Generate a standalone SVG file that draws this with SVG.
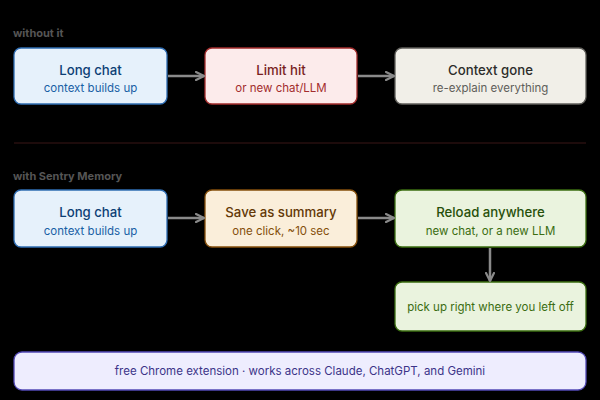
<svg xmlns="http://www.w3.org/2000/svg" width="600" height="400" viewBox="0 0 600 400">
<style>
text{font-family:"Inter","Liberation Sans",sans-serif;text-anchor:middle}
.sec{font-size:11px;font-weight:700;fill:#555;text-anchor:start}
.t{font-size:13.2px;font-weight:500}
.s{font-size:11.5px}
.box{stroke-width:1.3}
.blue rect{fill:#e6f1fb;stroke:#2f6db3}.blue .t{fill:#0c3f75}.blue .s{fill:#185fa5}
.red rect{fill:#fcebeb;stroke:#a32d2d}.red .t{fill:#791f1f}.red .s{fill:#a32d2d}
.gray rect{fill:#f1efe8;stroke:#5f5e5a}.gray .t{fill:#2c2c2a}.gray .s{fill:#5f5e5a}
.orange rect{fill:#faeeda;stroke:#854f0b}.orange .t{fill:#633806}.orange .s{fill:#854f0b}
.green rect{fill:#eaf3de;stroke:#3b6d11}.green .t{fill:#27500a}.green .s{fill:#3b6d11}
.purple rect{fill:#eeedfe;stroke:#534ab7}.purple .s{fill:#3c3489}
.c{stroke:#8a8a8a;stroke-width:2.5;fill:none;marker-end:url(#ah)}
</style>
<defs>
<marker id="ah" viewBox="0 0 10 10" refX="9" refY="5" markerWidth="4" markerHeight="4" orient="auto-start-reverse">
<path d="M1 1L9 5L1 9" fill="none" stroke="#8a8a8a" stroke-width="2.2" stroke-linecap="round" stroke-linejoin="round"/>
</marker>
</defs>
<rect width="600" height="400" fill="#000"/>
<text class="sec" x="13" y="37">without it</text>
<line x1="14" y1="143" x2="586" y2="143" stroke="#3a1616" stroke-width="1"/>
<text class="sec" x="13" y="180">with Sentry Memory</text>
<g id="n1" class="box blue"><rect x="14" y="48" width="153" height="56" rx="7"/><text class="t" x="90.5" y="75">Long chat</text><text class="s" x="90.5" y="92">context builds up</text></g>
<g id="n2" class="box red"><rect x="205" y="48" width="152" height="56" rx="7"/><text class="t" x="281" y="75">Limit hit</text><text class="s" x="281" y="92">or new chat/LLM</text></g>
<g id="n3" class="box gray"><rect x="395" y="48" width="191" height="56" rx="7"/><text class="t" x="490.5" y="75">Context gone</text><text class="s" x="490.5" y="92">re-explain everything</text></g>
<g id="n4" class="box blue"><rect x="14" y="190" width="153" height="57" rx="7"/><text class="t" x="90.5" y="217">Long chat</text><text class="s" x="90.5" y="235">context builds up</text></g>
<g id="n5" class="box orange"><rect x="205" y="190" width="152" height="57" rx="7"/><text class="t" x="281" y="217">Save as summary</text><text class="s" x="281" y="235">one click, ~10 sec</text></g>
<g id="n6" class="box green"><rect x="395" y="190" width="191" height="57" rx="7"/><text class="t" x="490.5" y="217">Reload anywhere</text><text class="s" x="490.5" y="235">new chat, or a new LLM</text></g>
<g id="n7" class="box green"><rect x="395" y="282" width="191" height="49" rx="7"/><text class="s" x="490.5" y="311">pick up right where you left off</text></g>
<g id="n8" class="box purple"><rect x="14" y="352" width="572" height="38" rx="8"/><text class="s" x="300" y="375">free Chrome extension · works across Claude, ChatGPT, and Gemini</text></g>
<g id="connectors">
<line class="c" x1="168" y1="76" x2="204" y2="76"/>
<line class="c" x1="358" y1="76" x2="394" y2="76"/>
<line class="c" x1="168" y1="218" x2="204" y2="218"/>
<line class="c" x1="358" y1="218" x2="394" y2="218"/>
<line class="c" x1="490" y1="248" x2="490" y2="281"/>
</g>
</svg>
